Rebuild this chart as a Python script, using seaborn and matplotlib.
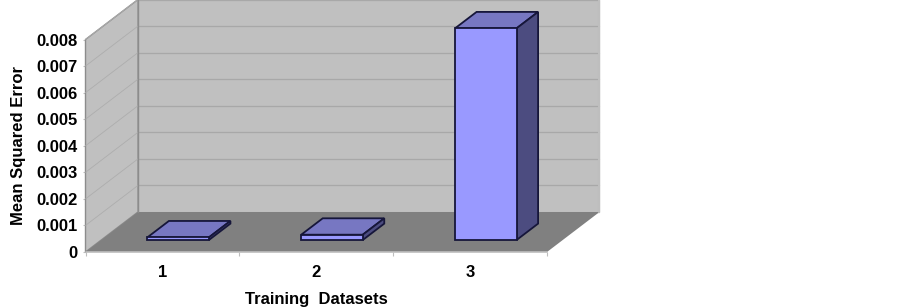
import matplotlib
matplotlib.use("Agg")
import matplotlib.pyplot as plt
import numpy as np
import seaborn as sns
from matplotlib.patches import Polygon
from matplotlib.transforms import IdentityTransform, offset_copy

# Data
categories = ["1", "2", "3"]
mse_values = [0.0001, 0.0002, 0.00797]
y_ticks = [0, 0.001, 0.002, 0.003, 0.004, 0.005, 0.006, 0.007, 0.008]
y_tick_labels = ["0", "0.001", "0.002", "0.003", "0.004", "0.005", "0.006", "0.007", "0.008"]
x_label = "Training  Datasets"
y_label = "Mean Squared Error"

# Style
W, H = 902, 307
WALL = "#C0C0C0"
FLOOR = "#808080"
GRID_BACK = "#A8A8A8"
GRID_SIDE = "#ADADAD"
EDGE = "#8C8C8C"
LIGHT = "#BEBEBE"
BAR_FRONT = "#9999FF"
BAR_TOP = "#7777C2"
BAR_SIDE = "#4C4C80"
BAR_EDGE = "#16163A"
SLOPE = 40 / 52.5          # vertical pixels per horizontal pixel of depth
WALL_DEPTH = 52.5
BAR_D0 = 15.75
BAR_D1 = 37.25

sns.set_style("white")
plt.rcParams["font.family"] = ["Liberation Sans", "DejaVu Sans"]
plt.rcParams["font.weight"] = "bold"

fig = plt.figure(figsize=(W / 100, H / 100), dpi=100, facecolor="white")
ax = fig.add_axes([85.5 / W, (H - 252) / H, 461.5 / W, 212.5 / H])
ax.patch.set_visible(False)

sns.barplot(x=categories, y=mse_values, width=0.4, color=BAR_FRONT, saturation=1,
            edgecolor=BAR_EDGE, linewidth=1.3, ax=ax, zorder=5)
ax.set_xlim(-0.5, 2.5)
ax.set_ylim(0, 0.008)


def proj(x, y, d):
    px, py = ax.transData.transform((x, y))
    return (px + d, py + d * SLOPE)


def face(points, **kw):
    p = Polygon([proj(*q) for q in points], closed=True, transform=IdentityTransform(),
                clip_on=False, **kw)
    ax.add_patch(p)
    return p


def seg(a, b, **kw):
    pa, pb = proj(*a), proj(*b)
    ax.plot([pa[0], pb[0]], [pa[1], pb[1]], transform=IdentityTransform(), clip_on=False, **kw)


x0, x1 = ax.get_xlim()
ymax = y_ticks[-1]

# Walls and floor
face([(x0, 0, 0), (x0, ymax, 0), (x0, ymax, WALL_DEPTH), (x0, 0, WALL_DEPTH)],
     facecolor=WALL, edgecolor=EDGE, linewidth=1, zorder=1)
face([(x0, 0, WALL_DEPTH), (x0, ymax, WALL_DEPTH), (x1, ymax, WALL_DEPTH), (x1, 0, WALL_DEPTH)],
     facecolor=WALL, edgecolor=LIGHT, linewidth=1, zorder=1)
face([(x0, 0, 0), (x0, 0, WALL_DEPTH), (x1, 0, WALL_DEPTH), (x1, 0, 0)],
     facecolor=FLOOR, edgecolor="none", zorder=1.5)
seg((x0, 0, WALL_DEPTH), (x0, ymax, WALL_DEPTH), color=EDGE, lw=1, zorder=2)
seg((x1, 0, WALL_DEPTH), (x1, ymax, WALL_DEPTH), color=LIGHT, lw=1.5, zorder=2)
seg((x0, 0, 0), (x1, 0, 0), color=LIGHT, lw=1.2, zorder=2)

# Gridlines
for t in y_ticks[1:]:
    seg((x0, t, 0), (x0, t, WALL_DEPTH), color=GRID_SIDE, lw=0.6, zorder=1.8)
    seg((x0, t, WALL_DEPTH), (x1, t, WALL_DEPTH), color=GRID_BACK, lw=0.9, zorder=1.8)

# 3D bars: the seaborn rectangles are the front faces, pushed back into the box
shift = offset_copy(ax.transData, fig=fig, x=BAR_D0, y=BAR_D0 * SLOPE, units="dots")
for bar in list(ax.patches):
    if bar.get_zorder() != 5:
        continue
    left, w, h = bar.get_x(), bar.get_width(), bar.get_height()
    bar.set_transform(shift)
    bar.set_clip_on(False)
    bar.set_joinstyle("miter")
    face([(left, h, BAR_D0), (left, h, BAR_D1), (left + w, h, BAR_D1), (left + w, h, BAR_D0)],
         facecolor=BAR_TOP, edgecolor=BAR_EDGE, linewidth=1.3, zorder=4, joinstyle="miter")
    face([(left + w, 0, BAR_D0), (left + w, h, BAR_D0), (left + w, h, BAR_D1), (left + w, 0, BAR_D1)],
         facecolor=BAR_SIDE, edgecolor=BAR_EDGE, linewidth=1.3, zorder=4, joinstyle="miter")

# Axes furniture
for s in ax.spines.values():
    s.set_visible(False)
ax.set_yticks(y_ticks)
ax.set_yticklabels(y_tick_labels, fontsize=12, fontweight="bold", color="black")
ax.tick_params(axis="y", left=True, length=2, width=0.8, color=LIGHT, pad=3.5)
ax.set_xticks(range(len(categories)))
ax.set_xticklabels(categories, fontsize=12, fontweight="bold", color="black")
ax.tick_params(axis="x", which="major", bottom=False, length=0, pad=9.5)
ax.set_xticks(np.arange(x0, x1 + 0.5), minor=True)
ax.tick_params(axis="x", which="minor", bottom=True, length=3, width=0.8, color=LIGHT)
ax.set_xlabel(x_label, fontsize=12, fontweight="bold", color="black", labelpad=8.5)
ax.set_ylabel(y_label, fontsize=12, fontweight="bold", color="black", labelpad=8)

fig.savefig("out.png", dpi=100, facecolor="white")
